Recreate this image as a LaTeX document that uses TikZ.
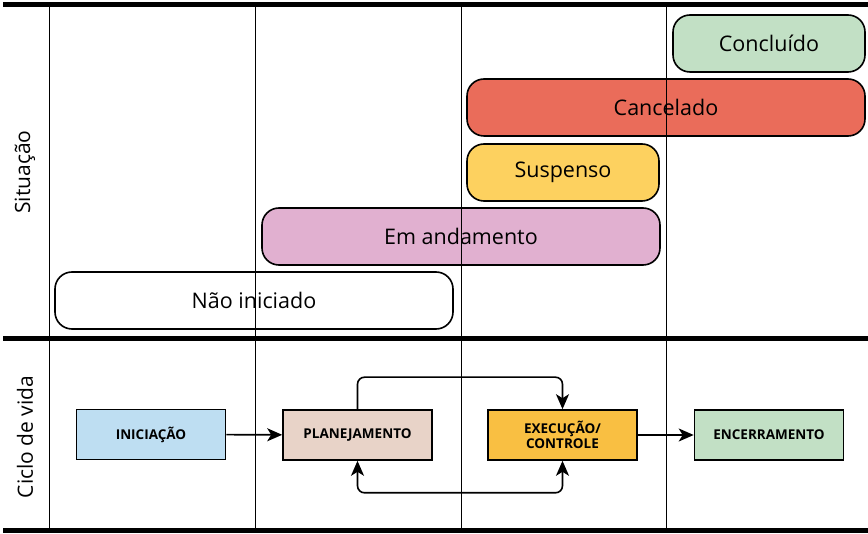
\documentclass[tikz,border=0pt]{standalone}
\usepackage{fontspec}
\setmainfont{Open Sans}
\usetikzlibrary{arrows.meta}
\definecolor{verde}{HTML}{C2E0C5}
\definecolor{vermelho}{HTML}{EA6C5A}
\definecolor{amarelo}{HTML}{FDD15F}
\definecolor{rosa}{HTML}{E1B0D0}
\definecolor{azul}{HTML}{BEDEF2}
\definecolor{bege}{HTML}{E8D3C8}
\definecolor{laranja}{HTML}{F9BF42}

\begin{document}
\begin{tikzpicture}[x=1pt,y=-1pt,
    situacao/.style={draw,line width=1.6pt,rounded corners=17pt,minimum height=57pt,inner sep=0pt,font=\fontsize{21.5}{24}\selectfont},
    fase/.style={draw,line width=1.6pt,minimum width=149pt,minimum height=50pt,inner sep=0pt,align=center,font=\fontsize{13.5}{14.5}\selectfont\bfseries},
    ponta/.tip={Stealth[length=15pt,width=13pt,inset=4pt]},
    seta/.style={line width=1.6pt,-ponta}]
        \useasboundingbox (0,0) rectangle (868,534);
        % situacao
        \node[situacao,fill=verde,minimum width=192pt] (conc) at (769,43.5) {Concluído};
        \node[situacao,fill=vermelho,minimum width=398pt] (canc) at (666,107.5) {Cancelado};
        \node[situacao,fill=amarelo,minimum width=192pt] (susp) at (563,172.5) {Suspenso};
        \node[situacao,fill=rosa,minimum width=398pt] (anda) at (461,236.5) {Em andamento};
        \node[situacao,fill=white,minimum width=398pt] (nini) at (254,300.5) {Não iniciado};
        % grade
        \foreach \x in {49,255,461,666}
            \draw[line width=0.9pt] (\x,5) -- (\x,530);
        \draw[line width=5pt] (3,5) -- (868,5);
        \draw[line width=5pt] (3,339) -- (868,339);
        \draw[line width=5pt] (3,530) -- (868,530);
        \node[rotate=90,font=\fontsize{21}{24}\selectfont] (sit) at (25,172) {Situação};
        \node[rotate=90,font=\fontsize{21}{24}\selectfont] (cic) at (25,437) {Ciclo de vida};
        % ciclo de vida
        \node[fase,fill=azul] (inic) at (151,434.5) {INICIAÇÃO};
        \node[fase,fill=bege] (plan) at (357.5,435) {PLANEJAMENTO};
        \node[fase,fill=laranja] (exec) at (562.5,435) {EXECUÇÃO/\\CONTROLE};
        \node[fase,fill=verde] (ence) at (769,435) {ENCERRAMENTO};
        \draw[seta] (inic) -- (plan);
        \draw[seta] (exec) -- (ence);
        \draw[seta,rounded corners=7pt] (plan.north) -- ++(0,-32) -| (exec.north);
        \draw[seta,ponta-ponta,rounded corners=7pt] (plan.south) -- ++(0,32) -| (exec.south);
    \end{tikzpicture}
\end{document}
